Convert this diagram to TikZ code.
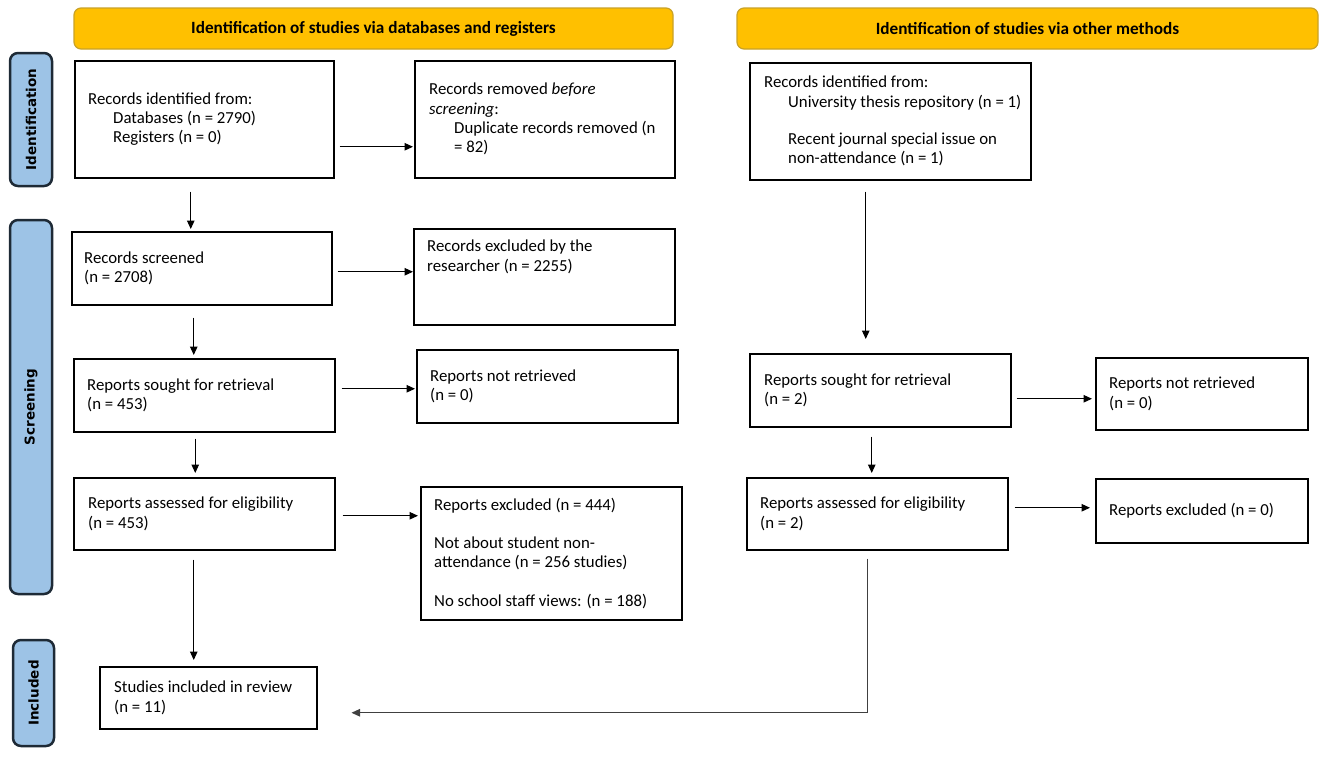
\documentclass[tikz,border=0pt]{standalone}
\usepackage{fontspec}
\setmainfont{Carlito}
\newfontfamily\sidefont{DejaVu Sans}
\usetikzlibrary{arrows.meta}
\definecolor{gold}{HTML}{FFC000}
\definecolor{goldline}{HTML}{C9A227}
\definecolor{sideblue}{HTML}{9DC3E6}
\definecolor{sideline}{HTML}{1E2A36}
\begin{document}
\begin{tikzpicture}[x=1pt,y=-1pt,
  box/.style={draw=black, line width=1.5pt, rectangle, inner sep=0pt, anchor=north west},
  txt/.style={align=left, inner sep=0pt, font=\fontsize{16.8}{19.3}\selectfont, anchor=west},
  banner/.style={draw=goldline, fill=gold, rounded corners=7pt, line width=1.2pt, font=\bfseries\fontsize{17.2}{20}\selectfont},
  side/.style={draw=sideline, fill=sideblue, line width=2.5pt, rounded corners=8pt, rotate=90, font=\sidefont\bfseries\fontsize{13.5}{15}\selectfont, inner sep=0pt},
  arr/.style={-{Triangle[length=8.5pt,width=7.5pt]}, line width=1.1pt}]
\useasboundingbox (0,0) rectangle (1325,756);

% banners
\node[banner, minimum width=599, minimum height=41] (ban1) at (373.5,28.5) {Identification of studies via databases and registers};
\node[banner, minimum width=581, minimum height=41] (ban2) at (1027.5,28.5) {Identification of studies via other methods};

% side labels
\node[side, minimum width=133, minimum height=42] (s1) at (31,119.5) {Identification};
\node[side, minimum width=374, minimum height=42] (s2) at (31,407) {Screening};
\node[side, minimum width=106, minimum height=41] (s3) at (33.5,693) {Included};

% boxes
\node[box, minimum width=259, minimum height=117] (b1) at (74,60) {};
\node[box, minimum width=260, minimum height=117] (b2) at (414,60) {};
\node[box, minimum width=260, minimum height=73] (b3) at (71,231) {};
\node[box, minimum width=261, minimum height=96] (b4) at (413,228) {};
\node[box, minimum width=261, minimum height=73] (b5) at (73,358) {};
\node[box, minimum width=261, minimum height=73] (b6) at (416,349) {};
\node[box, minimum width=261, minimum height=72] (b7) at (73,477) {};
\node[box, minimum width=261, minimum height=133] (b8) at (420,486) {};
\node[box, minimum width=217, minimum height=62] (b9) at (99,666) {};
\node[box, minimum width=281, minimum height=117] (b10) at (749,62) {};
\node[box, minimum width=261, minimum height=73] (b11) at (749,353) {};
\node[box, minimum width=212, minimum height=72] (b12) at (1095,357) {};
\node[box, minimum width=261, minimum height=72] (b13) at (746,477) {};
\node[box, minimum width=212, minimum height=64] (b14) at (1095,478) {};

% texts
\node[txt] (t1) at ([xshift=14]b1.west) {Records identified from:\\\hspace*{25pt}Databases (n = 2790)\\\hspace*{25pt}Registers (n = 0)};
\node[txt] (t2) at ([xshift=15]b2.west) {Records removed \textit{before}\\\textit{screening}:\\\hspace*{25pt}Duplicate records removed (n\\\hspace*{25pt}= 82)};
\node[txt] (t3) at ([xshift=13]b3.west) {Records screened\\(n = 2708)};
\node[txt, anchor=north west] (t4) at ([xshift=14,yshift=-12]b4.north west) {Records excluded by the\\researcher (n = 2255)};
\node[txt] (t5) at ([xshift=14]b5.west) {Reports sought for retrieval\\(n = 453)};
\node[txt] (t6) at ([xshift=14]b6.west) {Reports not retrieved\\(n = 0)};
\node[txt] (t7) at ([xshift=15]b7.west) {Reports assessed for eligibility\\(n = 453)};
\node[txt] (t8) at ([xshift=14]b8.west) {Reports excluded (n = 444)\\[19pt]Not about student non-\\attendance (n = 256 studies)\\[19pt]No school staff views: (n = 188)};
\node[txt] (t9) at ([xshift=15]b9.west) {Studies included in review\\(n = 11)};
\node[txt] (t10) at ([xshift=15]b10.west) {Records identified from:\\\hspace*{24pt}University thesis repository (n = 1)\\[18pt]\hspace*{24pt}Recent journal special issue on\\\hspace*{24pt}non-attendance (n = 1)};
\node[txt] (t11) at ([xshift=15]b11.west) {Reports sought for retrieval\\(n = 2)};
\node[txt] (t12) at ([xshift=14]b12.west) {Reports not retrieved\\(n = 0)};
\node[txt] (t13) at ([xshift=14]b13.west) {Reports assessed for eligibility\\(n = 2)};
\node[txt] (t14) at ([xshift=14]b14.west) {Reports excluded (n = 0)};

% connectors
\draw[arr] ([xshift=-13.5,yshift=-13]b1.south) -- ([xshift=-11,yshift=2]b3.north);
\draw[arr] ([xshift=5,yshift=-27.5]b1.east) -- ([xshift=-1,yshift=-27.5]b2.west);
\draw[arr] ([xshift=5,yshift=-3.5]b3.east) -- ([yshift=5]b4.west);
\draw[arr] ([xshift=-8,yshift=-12]b3.south) -- ([xshift=-10.5,yshift=3]b5.north);
\draw[arr] ([xshift=6,yshift=6.5]b5.east) -- ([xshift=-1,yshift=-2.5]b6.west);
\draw[arr] ([xshift=-9,yshift=-6]b5.south) -- ([xshift=-9,yshift=4]b7.north);
\draw[arr] ([xshift=7,yshift=-2]b7.east) -- ([xshift=-2,yshift=37.5]b8.west);
\draw[arr] ([xshift=-10.5,yshift=-9]b7.south) -- ([xshift=-14.5,yshift=6]b9.north);
\draw[arr] ([xshift=-24.5,yshift=-11]b10.south) -- ([xshift=-14.5,yshift=14]b11.north);
\draw[arr] ([xshift=5,yshift=-8.5]b11.east) -- ([xshift=-3,yshift=-5]b12.west);
\draw[arr] ([xshift=-8.5,yshift=-9]b11.south) -- ([xshift=-5.5,yshift=4]b13.north);
\draw[arr] ([xshift=6,yshift=6]b13.east) -- ([xshift=-5,yshift=3]b14.west);
\draw[arr, draw=black!75] ([xshift=-9.5,yshift=-8]b13.south) |- ([xshift=34,yshift=-15]b9.east);
\end{tikzpicture}
\end{document}
